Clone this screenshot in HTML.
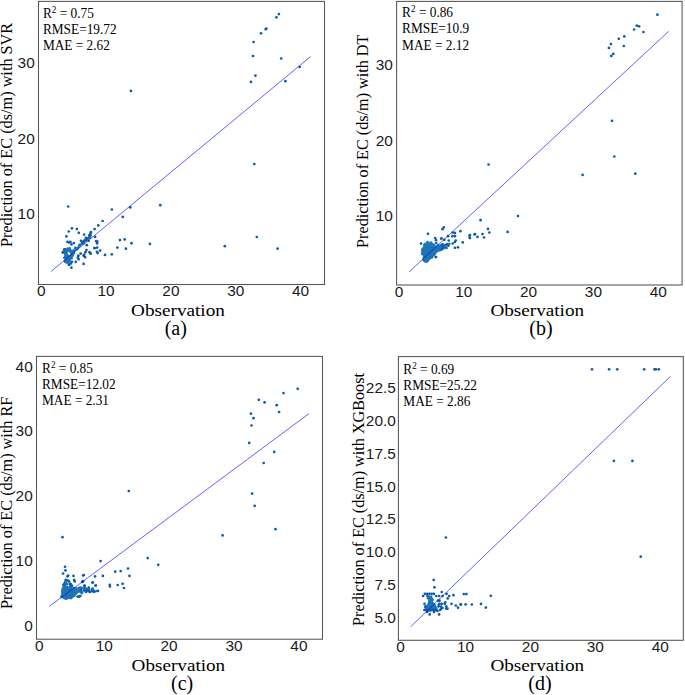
<!DOCTYPE html>
<html><head><meta charset="utf-8"><style>
html,body{margin:0;padding:0;background:#fff;width:685px;height:695px;overflow:hidden}
svg{display:block}
text{font-family:"Liberation Serif",serif}
.sa{font-family:"Liberation Sans",sans-serif}
.se{font-family:"Liberation Serif",serif}
</style></head><body>
<svg width="685" height="695" viewBox="0 0 685 695">
<rect width="685" height="695" fill="#fff"/>
<polygon fill="#1f75b4" points="68.2,248.3 71,249 72.5,250.4 74.5,249.3 76.5,247.8 79,246 81,245 81.5,245.6 79.5,247.5 76.5,250 74.8,252 73.8,254.5 72.5,257 70.8,260.2 69.2,262.2 67.1,263.4 65.4,262.7 64.4,259.5 64.6,256 63.6,252.5 65,250 66.5,248.8"/>
<g fill="#1f75b4">
<circle cx="65.9" cy="260.6" r="1.35"/>
<circle cx="72.5" cy="252.9" r="1.35"/>
<circle cx="71.6" cy="258.2" r="1.35"/>
<circle cx="67.7" cy="262.5" r="1.35"/>
<circle cx="79.9" cy="244.9" r="1.35"/>
<circle cx="67.4" cy="252.4" r="1.35"/>
<circle cx="71.5" cy="253.8" r="1.35"/>
<circle cx="67.7" cy="248.7" r="1.35"/>
<circle cx="67.5" cy="253.1" r="1.35"/>
<circle cx="75.2" cy="247.9" r="1.35"/>
<circle cx="65.7" cy="250.7" r="1.35"/>
<circle cx="69.0" cy="255.6" r="1.35"/>
<circle cx="72.7" cy="255.6" r="1.35"/>
<circle cx="66.6" cy="254.9" r="1.35"/>
<circle cx="70.3" cy="252.7" r="1.35"/>
<circle cx="73.0" cy="251.9" r="1.35"/>
<circle cx="64.3" cy="257.8" r="1.35"/>
<circle cx="74.0" cy="253.1" r="1.35"/>
<circle cx="68.4" cy="254.8" r="1.35"/>
<circle cx="73.7" cy="252.5" r="1.35"/>
<circle cx="72.7" cy="253.6" r="1.35"/>
<circle cx="70.0" cy="251.0" r="1.35"/>
<circle cx="66.7" cy="255.5" r="1.35"/>
<circle cx="68.1" cy="260.5" r="1.35"/>
<circle cx="77.2" cy="249.1" r="1.35"/>
<circle cx="65.5" cy="256.3" r="1.35"/>
<circle cx="66.4" cy="254.4" r="1.35"/>
<circle cx="66.6" cy="249.5" r="1.35"/>
<circle cx="69.4" cy="253.4" r="1.35"/>
<circle cx="63.9" cy="251.7" r="1.35"/>
<circle cx="65.5" cy="261.6" r="1.35"/>
<circle cx="66.2" cy="258.1" r="1.35"/>
<circle cx="66.4" cy="257.8" r="1.35"/>
<circle cx="67.5" cy="263.1" r="1.35"/>
<circle cx="67.6" cy="256.8" r="1.35"/>
<circle cx="70.7" cy="255.4" r="1.35"/>
<circle cx="69.3" cy="256.4" r="1.35"/>
<circle cx="64.6" cy="250.0" r="1.35"/>
<circle cx="69.1" cy="260.8" r="1.35"/>
<circle cx="69.1" cy="262.4" r="1.35"/>
<circle cx="79.5" cy="245.0" r="1.35"/>
<circle cx="70.4" cy="251.0" r="1.35"/>
<circle cx="67.2" cy="257.3" r="1.35"/>
<circle cx="65.4" cy="257.1" r="1.35"/>
<circle cx="68.9" cy="253.9" r="1.35"/>
<circle cx="69.4" cy="261.1" r="1.35"/>
<circle cx="67.2" cy="250.6" r="1.35"/>
<circle cx="69.7" cy="248.4" r="1.35"/>
<circle cx="67.8" cy="258.3" r="1.35"/>
<circle cx="69.7" cy="249.9" r="1.35"/>
<circle cx="66.0" cy="254.9" r="1.35"/>
<circle cx="64.8" cy="261.0" r="1.35"/>
<circle cx="69.7" cy="256.1" r="1.35"/>
<circle cx="65.0" cy="249.4" r="1.35"/>
<circle cx="68.5" cy="259.4" r="1.35"/>
<circle cx="65.6" cy="261.3" r="1.35"/>
<circle cx="67.9" cy="258.6" r="1.35"/>
<circle cx="65.4" cy="261.8" r="1.35"/>
<circle cx="68.1" cy="253.5" r="1.35"/>
<circle cx="65.3" cy="256.8" r="1.35"/>
<circle cx="73.4" cy="250.6" r="1.35"/>
<circle cx="76.6" cy="248.3" r="1.35"/>
<circle cx="79.0" cy="246.3" r="1.35"/>
<circle cx="81.6" cy="244.0" r="1.35"/>
<circle cx="83.7" cy="243.2" r="1.35"/>
<circle cx="84.4" cy="241.2" r="1.35"/>
<circle cx="85.9" cy="240.6" r="1.35"/>
<circle cx="88.3" cy="238.2" r="1.35"/>
<circle cx="89.9" cy="237.8" r="1.35"/>
<circle cx="90.7" cy="235.7" r="1.35"/>
</g>
<ellipse cx="68.9" cy="253.4" rx="1.1" ry="1.6" transform="rotate(-35 68.9 253.4)" fill="#fff"/>
<g fill="#0f5ca6">
<circle cx="278.9" cy="14.1" r="1.35"/>
<circle cx="276.4" cy="17.3" r="1.35"/>
<circle cx="266.4" cy="28.5" r="1.35"/>
<circle cx="265.7" cy="29.2" r="1.35"/>
<circle cx="261.0" cy="33.3" r="1.35"/>
<circle cx="253.6" cy="42.0" r="1.35"/>
<circle cx="253.1" cy="56.0" r="1.35"/>
<circle cx="281.2" cy="58.5" r="1.35"/>
<circle cx="299.7" cy="67.0" r="1.35"/>
<circle cx="255.4" cy="75.6" r="1.35"/>
<circle cx="251.0" cy="81.9" r="1.35"/>
<circle cx="285.4" cy="81.2" r="1.35"/>
<circle cx="130.9" cy="90.9" r="1.35"/>
<circle cx="254.3" cy="164.1" r="1.35"/>
<circle cx="256.8" cy="237.0" r="1.35"/>
<circle cx="277.6" cy="248.7" r="1.35"/>
<circle cx="160.3" cy="205.2" r="1.35"/>
<circle cx="149.9" cy="243.9" r="1.35"/>
<circle cx="224.8" cy="246.2" r="1.35"/>
<circle cx="68.2" cy="206.5" r="1.35"/>
<circle cx="111.9" cy="209.5" r="1.35"/>
<circle cx="130.3" cy="207.4" r="1.35"/>
<circle cx="122.8" cy="216.9" r="1.35"/>
<circle cx="102.6" cy="221.0" r="1.35"/>
<circle cx="98.3" cy="225.4" r="1.35"/>
<circle cx="94.6" cy="229.1" r="1.35"/>
<circle cx="71.9" cy="228.3" r="1.35"/>
<circle cx="76.9" cy="229.1" r="1.35"/>
<circle cx="68.8" cy="231.5" r="1.35"/>
<circle cx="78.8" cy="232.8" r="1.35"/>
<circle cx="66.4" cy="236.4" r="1.35"/>
<circle cx="84.1" cy="234.5" r="1.35"/>
<circle cx="90.9" cy="232.2" r="1.35"/>
<circle cx="90.5" cy="233.8" r="1.35"/>
<circle cx="89.2" cy="235.7" r="1.35"/>
<circle cx="95.1" cy="236.9" r="1.35"/>
<circle cx="85.9" cy="237.8" r="1.35"/>
<circle cx="96.2" cy="241.2" r="1.35"/>
<circle cx="97.3" cy="241.5" r="1.35"/>
<circle cx="97.1" cy="243.4" r="1.35"/>
<circle cx="119.9" cy="240.1" r="1.35"/>
<circle cx="124.7" cy="239.4" r="1.35"/>
<circle cx="131.5" cy="243.2" r="1.35"/>
<circle cx="117.4" cy="247.6" r="1.35"/>
<circle cx="125.9" cy="248.7" r="1.35"/>
<circle cx="111.8" cy="254.3" r="1.35"/>
<circle cx="105.0" cy="254.9" r="1.35"/>
<circle cx="94.4" cy="248.1" r="1.35"/>
<circle cx="97.1" cy="247.6" r="1.35"/>
<circle cx="100.1" cy="250.6" r="1.35"/>
<circle cx="96.9" cy="251.8" r="1.35"/>
<circle cx="97.7" cy="253.1" r="1.35"/>
<circle cx="90.6" cy="253.6" r="1.35"/>
<circle cx="67.4" cy="241.9" r="1.35"/>
<circle cx="69.2" cy="242.5" r="1.35"/>
<circle cx="70.4" cy="241.9" r="1.35"/>
<circle cx="71.5" cy="244.3" r="1.35"/>
<circle cx="73.9" cy="243.1" r="1.35"/>
<circle cx="81.0" cy="240.8" r="1.35"/>
<circle cx="83.6" cy="241.4" r="1.35"/>
<circle cx="84.8" cy="240.2" r="1.35"/>
<circle cx="82.4" cy="242.6" r="1.35"/>
<circle cx="88.6" cy="240.8" r="1.35"/>
<circle cx="86.8" cy="245.2" r="1.35"/>
<circle cx="94.7" cy="248.1" r="1.35"/>
<circle cx="86.5" cy="250.1" r="1.35"/>
<circle cx="85.4" cy="252.2" r="1.35"/>
<circle cx="84.2" cy="254.5" r="1.35"/>
<circle cx="83.6" cy="255.7" r="1.35"/>
<circle cx="85.1" cy="257.2" r="1.35"/>
<circle cx="89.5" cy="252.2" r="1.35"/>
<circle cx="90.6" cy="253.6" r="1.35"/>
<circle cx="80.7" cy="253.6" r="1.35"/>
<circle cx="78.4" cy="255.7" r="1.35"/>
<circle cx="77.8" cy="257.4" r="1.35"/>
<circle cx="78.6" cy="259.2" r="1.35"/>
<circle cx="75.7" cy="261.8" r="1.35"/>
<circle cx="71.9" cy="261.8" r="1.35"/>
<circle cx="70.8" cy="263.6" r="1.35"/>
<circle cx="69.0" cy="265.0" r="1.35"/>
<circle cx="71.4" cy="267.7" r="1.35"/>
<circle cx="83.6" cy="263.9" r="1.35"/>
<circle cx="63.2" cy="252.2" r="1.35"/>
<circle cx="64.3" cy="249.3" r="1.35"/>
<circle cx="62.8" cy="252.4" r="1.35"/>
<circle cx="89.9" cy="234.6" r="1.35"/>
<circle cx="87.5" cy="238.5" r="1.35"/>
<circle cx="86.2" cy="239.5" r="1.35"/>
</g>
<line x1="51.1" y1="271.4" x2="310.7" y2="56.5" stroke="#0000ff" stroke-opacity="0.62" stroke-width="1"/>
<rect x="38.5" y="1.4" width="286.0" height="283.1" fill="none" stroke="#555555" stroke-width="1.05"/>
<text transform="translate(41.2,296.2) scale(1.1,1)" class="sa" font-size="14" fill="#1a1a1a" text-anchor="middle">0</text>
<text transform="translate(106.1,296.2) scale(1.1,1)" class="sa" font-size="14" fill="#1a1a1a" text-anchor="middle">10</text>
<text transform="translate(170.9,296.2) scale(1.1,1)" class="sa" font-size="14" fill="#1a1a1a" text-anchor="middle">20</text>
<text transform="translate(235.8,296.2) scale(1.1,1)" class="sa" font-size="14" fill="#1a1a1a" text-anchor="middle">30</text>
<text transform="translate(300.6,296.2) scale(1.1,1)" class="sa" font-size="14" fill="#1a1a1a" text-anchor="middle">40</text>
<text transform="translate(34.7,219.2) scale(1.1,1)" class="sa" font-size="14" fill="#1a1a1a" text-anchor="end">10</text>
<text transform="translate(34.7,143.6) scale(1.1,1)" class="sa" font-size="14" fill="#1a1a1a" text-anchor="end">20</text>
<text transform="translate(34.7,68.0) scale(1.1,1)" class="sa" font-size="14" fill="#1a1a1a" text-anchor="end">30</text>
<text transform="translate(12.4,247.1) rotate(-90)" x="0" y="0" class="se" font-size="16.2" fill="#000" textLength="224.3" lengthAdjust="spacingAndGlyphs">Prediction of EC (ds/m) with SVR</text>
<text transform="translate(42.9,17.5) scale(0.965,1)" class="se" font-size="13.8" fill="#000">R<tspan font-size="9.5" dy="-4.6">2</tspan><tspan dy="4.6"> = 0.75</tspan></text>
<text transform="translate(42.9,33.8) scale(0.965,1)" class="se" font-size="13.8" fill="#000">RMSE=19.72</text>
<text transform="translate(42.9,50.1) scale(0.965,1)" class="se" font-size="13.8" fill="#000">MAE = 2.62</text>
<text x="131.1" y="315.9" class="se" font-size="16.5" fill="#000" textLength="93.8" lengthAdjust="spacingAndGlyphs">Observation</text>
<text x="175.8" y="334.8" class="se" font-size="20" fill="#000" text-anchor="middle">(a)</text>
<polygon fill="#1f75b4" points="427.5,242.5 431,242 434,244 436,246 440,245.2 443.5,244.5 445,245.5 444,247.5 440.5,250.5 437,252.5 435,255.5 431.5,258.5 428,261.8 425,263 423.5,261.5 423.3,258 422.5,254 423,249.5 424.8,245"/>
<g fill="#1f75b4">
<circle cx="437.7" cy="248.4" r="1.35"/>
<circle cx="432.1" cy="250.3" r="1.35"/>
<circle cx="432.4" cy="247.5" r="1.35"/>
<circle cx="432.9" cy="248.6" r="1.35"/>
<circle cx="434.3" cy="254.0" r="1.35"/>
<circle cx="427.5" cy="242.1" r="1.35"/>
<circle cx="429.6" cy="244.6" r="1.35"/>
<circle cx="437.9" cy="245.6" r="1.35"/>
<circle cx="444.7" cy="245.2" r="1.35"/>
<circle cx="432.8" cy="253.3" r="1.35"/>
<circle cx="427.1" cy="248.8" r="1.35"/>
<circle cx="438.5" cy="245.3" r="1.35"/>
<circle cx="443.4" cy="247.5" r="1.35"/>
<circle cx="443.5" cy="248.4" r="1.35"/>
<circle cx="433.8" cy="253.0" r="1.35"/>
<circle cx="429.3" cy="246.2" r="1.35"/>
<circle cx="443.4" cy="245.8" r="1.35"/>
<circle cx="437.4" cy="247.6" r="1.35"/>
<circle cx="427.2" cy="260.9" r="1.35"/>
<circle cx="424.4" cy="253.1" r="1.35"/>
<circle cx="442.1" cy="247.0" r="1.35"/>
<circle cx="426.9" cy="261.0" r="1.35"/>
<circle cx="431.9" cy="257.4" r="1.35"/>
<circle cx="422.6" cy="249.6" r="1.35"/>
<circle cx="425.9" cy="256.4" r="1.35"/>
<circle cx="441.2" cy="245.1" r="1.35"/>
<circle cx="426.2" cy="256.8" r="1.35"/>
<circle cx="431.0" cy="242.5" r="1.35"/>
<circle cx="422.7" cy="249.2" r="1.35"/>
<circle cx="424.5" cy="249.0" r="1.35"/>
<circle cx="422.6" cy="251.5" r="1.35"/>
<circle cx="433.1" cy="246.6" r="1.35"/>
<circle cx="437.5" cy="248.6" r="1.35"/>
<circle cx="424.3" cy="251.5" r="1.35"/>
<circle cx="442.6" cy="244.4" r="1.35"/>
<circle cx="435.7" cy="250.3" r="1.35"/>
<circle cx="434.1" cy="244.8" r="1.35"/>
<circle cx="444.6" cy="247.3" r="1.35"/>
<circle cx="436.2" cy="250.9" r="1.35"/>
<circle cx="422.3" cy="253.9" r="1.35"/>
<circle cx="424.1" cy="255.6" r="1.35"/>
<circle cx="427.4" cy="251.4" r="1.35"/>
<circle cx="427.8" cy="254.6" r="1.35"/>
<circle cx="438.7" cy="247.3" r="1.35"/>
<circle cx="431.9" cy="253.2" r="1.35"/>
<circle cx="431.6" cy="244.0" r="1.35"/>
<circle cx="439.0" cy="246.9" r="1.35"/>
<circle cx="424.2" cy="245.6" r="1.35"/>
<circle cx="427.4" cy="246.4" r="1.35"/>
<circle cx="434.2" cy="251.8" r="1.35"/>
<circle cx="429.2" cy="255.7" r="1.35"/>
<circle cx="426.9" cy="261.6" r="1.35"/>
<circle cx="432.2" cy="252.9" r="1.35"/>
<circle cx="431.8" cy="253.2" r="1.35"/>
<circle cx="426.2" cy="243.7" r="1.35"/>
<circle cx="440.9" cy="249.7" r="1.35"/>
<circle cx="436.3" cy="248.0" r="1.35"/>
<circle cx="424.3" cy="248.3" r="1.35"/>
<circle cx="422.2" cy="251.5" r="1.35"/>
<circle cx="431.6" cy="252.3" r="1.35"/>
<circle cx="426.8" cy="254.6" r="1.35"/>
<circle cx="423.6" cy="247.9" r="1.35"/>
<circle cx="423.7" cy="258.2" r="1.35"/>
<circle cx="426.4" cy="254.2" r="1.35"/>
<circle cx="431.2" cy="251.8" r="1.35"/>
<circle cx="439.7" cy="250.3" r="1.35"/>
<circle cx="424.8" cy="244.3" r="1.35"/>
<circle cx="423.8" cy="260.3" r="1.35"/>
<circle cx="430.3" cy="251.7" r="1.35"/>
<circle cx="440.8" cy="247.5" r="1.35"/>
<circle cx="437.0" cy="251.2" r="1.35"/>
<circle cx="440.2" cy="248.5" r="1.35"/>
<circle cx="442.3" cy="247.3" r="1.35"/>
<circle cx="445.7" cy="245.9" r="1.35"/>
<circle cx="449.3" cy="243.9" r="1.35"/>
</g>
<g fill="#0f5ca6">
<circle cx="657.4" cy="14.7" r="1.35"/>
<circle cx="636.8" cy="25.7" r="1.35"/>
<circle cx="639.1" cy="26.3" r="1.35"/>
<circle cx="634.1" cy="29.5" r="1.35"/>
<circle cx="643.4" cy="32.0" r="1.35"/>
<circle cx="624.3" cy="36.4" r="1.35"/>
<circle cx="618.8" cy="38.8" r="1.35"/>
<circle cx="610.9" cy="44.1" r="1.35"/>
<circle cx="608.9" cy="47.9" r="1.35"/>
<circle cx="623.8" cy="46.0" r="1.35"/>
<circle cx="613.3" cy="53.9" r="1.35"/>
<circle cx="611.3" cy="55.9" r="1.35"/>
<circle cx="612.0" cy="120.8" r="1.35"/>
<circle cx="614.3" cy="156.5" r="1.35"/>
<circle cx="582.6" cy="174.9" r="1.35"/>
<circle cx="635.3" cy="173.7" r="1.35"/>
<circle cx="488.6" cy="164.5" r="1.35"/>
<circle cx="517.9" cy="216.0" r="1.35"/>
<circle cx="480.6" cy="220.2" r="1.35"/>
<circle cx="488.0" cy="228.9" r="1.35"/>
<circle cx="489.3" cy="232.5" r="1.35"/>
<circle cx="507.6" cy="231.9" r="1.35"/>
<circle cx="475.1" cy="234.1" r="1.35"/>
<circle cx="477.5" cy="236.9" r="1.35"/>
<circle cx="482.5" cy="234.1" r="1.35"/>
<circle cx="484.0" cy="237.5" r="1.35"/>
<circle cx="470.0" cy="235.1" r="1.35"/>
<circle cx="470.0" cy="238.0" r="1.35"/>
<circle cx="443.8" cy="227.4" r="1.35"/>
<circle cx="442.5" cy="229.2" r="1.35"/>
<circle cx="427.9" cy="233.8" r="1.35"/>
<circle cx="460.4" cy="231.2" r="1.35"/>
<circle cx="474.6" cy="234.3" r="1.35"/>
<circle cx="469.5" cy="235.8" r="1.35"/>
<circle cx="469.7" cy="238.0" r="1.35"/>
<circle cx="452.7" cy="232.5" r="1.35"/>
<circle cx="454.9" cy="232.9" r="1.35"/>
<circle cx="452.4" cy="236.2" r="1.35"/>
<circle cx="454.9" cy="236.2" r="1.35"/>
<circle cx="448.0" cy="236.2" r="1.35"/>
<circle cx="441.4" cy="238.5" r="1.35"/>
<circle cx="435.2" cy="238.0" r="1.35"/>
<circle cx="436.0" cy="240.2" r="1.35"/>
<circle cx="436.3" cy="243.1" r="1.35"/>
<circle cx="444.3" cy="239.8" r="1.35"/>
<circle cx="448.7" cy="240.5" r="1.35"/>
<circle cx="455.7" cy="240.5" r="1.35"/>
<circle cx="454.9" cy="242.0" r="1.35"/>
<circle cx="452.7" cy="243.5" r="1.35"/>
<circle cx="462.8" cy="242.4" r="1.35"/>
<circle cx="446.9" cy="244.2" r="1.35"/>
<circle cx="448.4" cy="245.7" r="1.35"/>
<circle cx="454.9" cy="247.8" r="1.35"/>
<circle cx="458.0" cy="247.3" r="1.35"/>
<circle cx="446.5" cy="248.0" r="1.35"/>
<circle cx="442.5" cy="244.9" r="1.35"/>
<circle cx="443.2" cy="247.1" r="1.35"/>
<circle cx="441.8" cy="249.3" r="1.35"/>
<circle cx="436.0" cy="257.0" r="1.35"/>
<circle cx="421.0" cy="243.6" r="1.35"/>
<circle cx="435.8" cy="257.1" r="1.35"/>
<circle cx="441.3" cy="238.5" r="1.35"/>
</g>
<line x1="409.2" y1="271.8" x2="668.7" y2="31.3" stroke="#0000ff" stroke-opacity="0.62" stroke-width="1"/>
<rect x="396.6" y="1.4" width="285.5" height="283.6" fill="none" stroke="#555555" stroke-width="1.05"/>
<text transform="translate(399.0,296.7) scale(1.1,1)" class="sa" font-size="14" fill="#1a1a1a" text-anchor="middle">0</text>
<text transform="translate(463.8,296.7) scale(1.1,1)" class="sa" font-size="14" fill="#1a1a1a" text-anchor="middle">10</text>
<text transform="translate(528.6,296.7) scale(1.1,1)" class="sa" font-size="14" fill="#1a1a1a" text-anchor="middle">20</text>
<text transform="translate(593.4,296.7) scale(1.1,1)" class="sa" font-size="14" fill="#1a1a1a" text-anchor="middle">30</text>
<text transform="translate(658.2,296.7) scale(1.1,1)" class="sa" font-size="14" fill="#1a1a1a" text-anchor="middle">40</text>
<text transform="translate(392.8,221.2) scale(1.1,1)" class="sa" font-size="14" fill="#1a1a1a" text-anchor="end">10</text>
<text transform="translate(392.8,145.8) scale(1.1,1)" class="sa" font-size="14" fill="#1a1a1a" text-anchor="end">20</text>
<text transform="translate(392.8,70.4) scale(1.1,1)" class="sa" font-size="14" fill="#1a1a1a" text-anchor="end">30</text>
<text transform="translate(367.9,247.9) rotate(-90)" x="0" y="0" class="se" font-size="16.2" fill="#000" textLength="213.3" lengthAdjust="spacingAndGlyphs">Prediction of EC (ds/m) with DT</text>
<text transform="translate(402.1,16.9) scale(0.965,1)" class="se" font-size="13.8" fill="#000">R<tspan font-size="9.5" dy="-4.6">2</tspan><tspan dy="4.6"> = 0.86</tspan></text>
<text transform="translate(402.1,33.2) scale(0.965,1)" class="se" font-size="13.8" fill="#000">RMSE=10.9</text>
<text transform="translate(402.1,49.5) scale(0.965,1)" class="se" font-size="13.8" fill="#000">MAE = 2.12</text>
<text x="490.4" y="315.9" class="se" font-size="16.5" fill="#000" textLength="93.7" lengthAdjust="spacingAndGlyphs">Observation</text>
<text x="541.0" y="334.8" class="se" font-size="20" fill="#000" text-anchor="middle">(b)</text>
<polygon fill="#1f75b4" points="62,587 65.5,585 69,586.5 72.5,588.5 75.5,590 76.5,593 75.5,596.5 72,598.3 66,599.2 62.5,598.8 61.2,595 61,590.5"/>
<g fill="#1f75b4">
<circle cx="64.6" cy="591.1" r="1.35"/>
<circle cx="66.4" cy="592.2" r="1.35"/>
<circle cx="61.5" cy="596.5" r="1.35"/>
<circle cx="64.9" cy="585.4" r="1.35"/>
<circle cx="72.9" cy="589.8" r="1.35"/>
<circle cx="70.1" cy="583.9" r="1.35"/>
<circle cx="70.1" cy="597.0" r="1.35"/>
<circle cx="68.5" cy="594.7" r="1.35"/>
<circle cx="71.8" cy="591.9" r="1.35"/>
<circle cx="65.5" cy="581.7" r="1.35"/>
<circle cx="73.3" cy="589.8" r="1.35"/>
<circle cx="71.2" cy="597.2" r="1.35"/>
<circle cx="71.2" cy="598.0" r="1.35"/>
<circle cx="66.8" cy="595.8" r="1.35"/>
<circle cx="67.4" cy="598.3" r="1.35"/>
<circle cx="63.2" cy="585.1" r="1.35"/>
<circle cx="74.7" cy="589.1" r="1.35"/>
<circle cx="70.0" cy="586.6" r="1.35"/>
<circle cx="68.3" cy="588.2" r="1.35"/>
<circle cx="66.1" cy="591.8" r="1.35"/>
<circle cx="69.4" cy="597.7" r="1.35"/>
<circle cx="70.7" cy="598.1" r="1.35"/>
<circle cx="70.6" cy="584.1" r="1.35"/>
<circle cx="73.8" cy="591.5" r="1.35"/>
<circle cx="71.2" cy="585.0" r="1.35"/>
<circle cx="72.8" cy="591.6" r="1.35"/>
<circle cx="65.2" cy="582.3" r="1.35"/>
<circle cx="62.5" cy="595.8" r="1.35"/>
<circle cx="67.0" cy="583.9" r="1.35"/>
<circle cx="65.4" cy="595.2" r="1.35"/>
<circle cx="71.2" cy="587.2" r="1.35"/>
<circle cx="65.6" cy="582.5" r="1.35"/>
<circle cx="64.0" cy="588.6" r="1.35"/>
<circle cx="69.7" cy="584.0" r="1.35"/>
<circle cx="61.9" cy="597.0" r="1.35"/>
<circle cx="65.6" cy="598.7" r="1.35"/>
<circle cx="73.7" cy="588.0" r="1.35"/>
<circle cx="67.7" cy="590.6" r="1.35"/>
<circle cx="70.2" cy="592.0" r="1.35"/>
<circle cx="69.0" cy="592.5" r="1.35"/>
<circle cx="74.3" cy="590.4" r="1.35"/>
<circle cx="67.3" cy="594.3" r="1.35"/>
<circle cx="64.6" cy="586.6" r="1.35"/>
<circle cx="74.8" cy="590.7" r="1.35"/>
<circle cx="67.0" cy="591.7" r="1.35"/>
<circle cx="80.2" cy="587.8" r="1.35"/>
<circle cx="83.8" cy="588.3" r="1.35"/>
<circle cx="76.4" cy="590.8" r="1.35"/>
<circle cx="92.0" cy="589.0" r="1.35"/>
<circle cx="86.9" cy="589.6" r="1.35"/>
<circle cx="78.8" cy="587.8" r="1.35"/>
<circle cx="79.7" cy="596.1" r="1.35"/>
<circle cx="92.8" cy="588.7" r="1.35"/>
<circle cx="81.9" cy="593.1" r="1.35"/>
<circle cx="86.2" cy="588.6" r="1.35"/>
<circle cx="87.1" cy="589.8" r="1.35"/>
<circle cx="86.3" cy="591.0" r="1.35"/>
<circle cx="88.3" cy="591.1" r="1.35"/>
<circle cx="78.6" cy="589.9" r="1.35"/>
<circle cx="76.0" cy="593.1" r="1.35"/>
<circle cx="81.2" cy="592.2" r="1.35"/>
<circle cx="85.4" cy="590.2" r="1.35"/>
<circle cx="84.1" cy="588.8" r="1.35"/>
<circle cx="89.0" cy="589.6" r="1.35"/>
<circle cx="82.1" cy="592.4" r="1.35"/>
<circle cx="76.3" cy="589.1" r="1.35"/>
<circle cx="80.2" cy="590.1" r="1.35"/>
<circle cx="78.9" cy="591.4" r="1.35"/>
<circle cx="75.9" cy="593.8" r="1.35"/>
<circle cx="75.4" cy="589.7" r="1.35"/>
<circle cx="81.5" cy="588.7" r="1.35"/>
<circle cx="84.8" cy="588.1" r="1.35"/>
<circle cx="76.0" cy="588.5" r="1.35"/>
<circle cx="92.4" cy="590.4" r="1.35"/>
<circle cx="81.4" cy="587.7" r="1.35"/>
<circle cx="76.2" cy="588.5" r="1.35"/>
<circle cx="75.9" cy="591.7" r="1.35"/>
<circle cx="77.7" cy="592.1" r="1.35"/>
<circle cx="92.2" cy="590.9" r="1.35"/>
<circle cx="80.3" cy="590.9" r="1.35"/>
<circle cx="75.8" cy="591.0" r="1.35"/>
<circle cx="80.5" cy="595.8" r="1.35"/>
<circle cx="93.4" cy="591.8" r="1.35"/>
<circle cx="75.7" cy="589.3" r="1.35"/>
<circle cx="80.4" cy="588.9" r="1.35"/>
</g>
<g fill="#0f5ca6">
<circle cx="297.7" cy="388.8" r="1.35"/>
<circle cx="283.5" cy="393.1" r="1.35"/>
<circle cx="258.8" cy="399.8" r="1.35"/>
<circle cx="264.6" cy="402.3" r="1.35"/>
<circle cx="276.7" cy="405.2" r="1.35"/>
<circle cx="279.1" cy="412.0" r="1.35"/>
<circle cx="250.9" cy="413.7" r="1.35"/>
<circle cx="253.5" cy="418.2" r="1.35"/>
<circle cx="251.5" cy="425.5" r="1.35"/>
<circle cx="249.2" cy="442.9" r="1.35"/>
<circle cx="274.2" cy="451.9" r="1.35"/>
<circle cx="263.7" cy="463.0" r="1.35"/>
<circle cx="252.1" cy="493.6" r="1.35"/>
<circle cx="254.7" cy="505.9" r="1.35"/>
<circle cx="275.5" cy="529.2" r="1.35"/>
<circle cx="222.6" cy="535.4" r="1.35"/>
<circle cx="128.8" cy="491.1" r="1.35"/>
<circle cx="147.7" cy="558.1" r="1.35"/>
<circle cx="158.2" cy="564.8" r="1.35"/>
<circle cx="100.6" cy="561.1" r="1.35"/>
<circle cx="128.0" cy="568.5" r="1.35"/>
<circle cx="120.7" cy="571.1" r="1.35"/>
<circle cx="115.2" cy="571.7" r="1.35"/>
<circle cx="129.5" cy="575.9" r="1.35"/>
<circle cx="83.1" cy="575.5" r="1.35"/>
<circle cx="83.9" cy="575.0" r="1.35"/>
<circle cx="95.1" cy="576.4" r="1.35"/>
<circle cx="102.9" cy="575.9" r="1.35"/>
<circle cx="82.2" cy="581.9" r="1.35"/>
<circle cx="83.1" cy="581.2" r="1.35"/>
<circle cx="92.7" cy="582.6" r="1.35"/>
<circle cx="95.8" cy="585.5" r="1.35"/>
<circle cx="109.8" cy="584.8" r="1.35"/>
<circle cx="109.9" cy="586.4" r="1.35"/>
<circle cx="117.7" cy="585.0" r="1.35"/>
<circle cx="122.6" cy="583.8" r="1.35"/>
<circle cx="124.0" cy="588.0" r="1.35"/>
<circle cx="84.4" cy="585.7" r="1.35"/>
<circle cx="88.8" cy="587.7" r="1.35"/>
<circle cx="98.0" cy="591.0" r="1.35"/>
<circle cx="62.5" cy="537.2" r="1.35"/>
<circle cx="65.0" cy="566.8" r="1.35"/>
<circle cx="65.5" cy="570.4" r="1.35"/>
<circle cx="63.0" cy="573.5" r="1.35"/>
<circle cx="67.5" cy="576.3" r="1.35"/>
<circle cx="68.2" cy="575.5" r="1.35"/>
<circle cx="73.5" cy="575.9" r="1.35"/>
<circle cx="65.7" cy="579.9" r="1.35"/>
<circle cx="67.5" cy="580.3" r="1.35"/>
<circle cx="69.0" cy="581.4" r="1.35"/>
<circle cx="74.1" cy="579.9" r="1.35"/>
<circle cx="74.8" cy="581.4" r="1.35"/>
<circle cx="82.5" cy="581.8" r="1.35"/>
<circle cx="92.6" cy="582.5" r="1.35"/>
<circle cx="64.2" cy="583.9" r="1.35"/>
<circle cx="70.4" cy="584.3" r="1.35"/>
<circle cx="71.9" cy="585.8" r="1.35"/>
<circle cx="84.7" cy="585.8" r="1.35"/>
<circle cx="95.6" cy="585.6" r="1.35"/>
<circle cx="93.8" cy="590.9" r="1.35"/>
<circle cx="97.4" cy="590.9" r="1.35"/>
<circle cx="77.7" cy="596.7" r="1.35"/>
<circle cx="79.2" cy="596.7" r="1.35"/>
<circle cx="81.0" cy="590.0" r="1.35"/>
<circle cx="84.0" cy="590.5" r="1.35"/>
<circle cx="87.0" cy="590.0" r="1.35"/>
<circle cx="89.0" cy="591.0" r="1.35"/>
<circle cx="92.0" cy="590.5" r="1.35"/>
<circle cx="95.0" cy="591.5" r="1.35"/>
<circle cx="86.0" cy="592.0" r="1.35"/>
<circle cx="90.0" cy="592.0" r="1.35"/>
</g>
<line x1="49.2" y1="606.4" x2="309.0" y2="413.6" stroke="#0000ff" stroke-opacity="0.62" stroke-width="1"/>
<rect x="36.5" y="356.4" width="286.0" height="282.8" fill="none" stroke="#555555" stroke-width="1.05"/>
<text transform="translate(39.3,650.9) scale(1.1,1)" class="sa" font-size="14" fill="#1a1a1a" text-anchor="middle">0</text>
<text transform="translate(104.2,650.9) scale(1.1,1)" class="sa" font-size="14" fill="#1a1a1a" text-anchor="middle">10</text>
<text transform="translate(169.1,650.9) scale(1.1,1)" class="sa" font-size="14" fill="#1a1a1a" text-anchor="middle">20</text>
<text transform="translate(234.0,650.9) scale(1.1,1)" class="sa" font-size="14" fill="#1a1a1a" text-anchor="middle">30</text>
<text transform="translate(298.9,650.9) scale(1.1,1)" class="sa" font-size="14" fill="#1a1a1a" text-anchor="middle">40</text>
<text transform="translate(32.7,631.1) scale(1.1,1)" class="sa" font-size="14" fill="#1a1a1a" text-anchor="end">0</text>
<text transform="translate(32.7,566.2) scale(1.1,1)" class="sa" font-size="14" fill="#1a1a1a" text-anchor="end">10</text>
<text transform="translate(32.7,501.3) scale(1.1,1)" class="sa" font-size="14" fill="#1a1a1a" text-anchor="end">20</text>
<text transform="translate(32.7,436.4) scale(1.1,1)" class="sa" font-size="14" fill="#1a1a1a" text-anchor="end">30</text>
<text transform="translate(32.7,371.5) scale(1.1,1)" class="sa" font-size="14" fill="#1a1a1a" text-anchor="end">40</text>
<text transform="translate(12.3,609.0) rotate(-90)" x="0" y="0" class="se" font-size="16.2" fill="#000" textLength="212.4" lengthAdjust="spacingAndGlyphs">Prediction of EC (ds/m) with RF</text>
<text transform="translate(42.0,372.7) scale(0.965,1)" class="se" font-size="13.8" fill="#000">R<tspan font-size="9.5" dy="-4.6">2</tspan><tspan dy="4.6"> = 0.85</tspan></text>
<text transform="translate(42.0,389.0) scale(0.965,1)" class="se" font-size="13.8" fill="#000">RMSE=12.02</text>
<text transform="translate(42.0,405.3) scale(0.965,1)" class="se" font-size="13.8" fill="#000">MAE = 2.31</text>
<text x="131.6" y="670.6" class="se" font-size="16.5" fill="#000" textLength="93.6" lengthAdjust="spacingAndGlyphs">Observation</text>
<text x="182.1" y="689.5" class="se" font-size="20" fill="#000" text-anchor="middle">(c)</text>
<polygon fill="#1f75b4" points="428,595.5 432.5,595.5 432,598.5 432.5,601.5 435.5,604 437,607.5 435.5,609.8 430,610.2 426,609.8 426.5,606 428,602 428.3,598.5"/>
<g fill="#1f75b4">
<circle cx="433.8" cy="606.6" r="1.35"/>
<circle cx="436.2" cy="609.8" r="1.35"/>
<circle cx="435.4" cy="609.5" r="1.35"/>
<circle cx="431.7" cy="598.7" r="1.35"/>
<circle cx="432.7" cy="603.9" r="1.35"/>
<circle cx="429.1" cy="609.4" r="1.35"/>
<circle cx="428.1" cy="598.2" r="1.35"/>
<circle cx="429.2" cy="610.1" r="1.35"/>
<circle cx="432.6" cy="605.6" r="1.35"/>
<circle cx="428.0" cy="609.8" r="1.35"/>
<circle cx="434.7" cy="610.2" r="1.35"/>
<circle cx="430.2" cy="597.4" r="1.35"/>
<circle cx="427.2" cy="595.8" r="1.35"/>
<circle cx="429.4" cy="604.4" r="1.35"/>
<circle cx="429.9" cy="599.7" r="1.35"/>
<circle cx="429.6" cy="602.4" r="1.35"/>
<circle cx="435.5" cy="608.2" r="1.35"/>
<circle cx="425.4" cy="607.3" r="1.35"/>
<circle cx="430.3" cy="604.0" r="1.35"/>
<circle cx="427.7" cy="610.0" r="1.35"/>
<circle cx="427.9" cy="606.8" r="1.35"/>
<circle cx="430.0" cy="600.4" r="1.35"/>
<circle cx="432.4" cy="607.1" r="1.35"/>
<circle cx="426.7" cy="606.7" r="1.35"/>
<circle cx="436.2" cy="608.5" r="1.35"/>
<circle cx="425.7" cy="609.8" r="1.35"/>
<circle cx="433.6" cy="609.4" r="1.35"/>
<circle cx="429.9" cy="609.5" r="1.35"/>
<circle cx="432.7" cy="599.8" r="1.35"/>
<circle cx="429.6" cy="597.6" r="1.35"/>
<circle cx="427.4" cy="595.6" r="1.35"/>
<circle cx="430.8" cy="598.6" r="1.35"/>
<circle cx="433.4" cy="607.9" r="1.35"/>
<circle cx="431.5" cy="601.5" r="1.35"/>
<circle cx="426.0" cy="609.4" r="1.35"/>
<circle cx="435.3" cy="609.9" r="1.35"/>
<circle cx="433.9" cy="607.3" r="1.35"/>
<circle cx="427.3" cy="608.2" r="1.35"/>
<circle cx="429.3" cy="602.0" r="1.35"/>
<circle cx="431.9" cy="606.4" r="1.35"/>
</g>
<g fill="#0f5ca6">
<circle cx="592.0" cy="369.3" r="1.35"/>
<circle cx="609.1" cy="369.3" r="1.35"/>
<circle cx="617.2" cy="369.3" r="1.35"/>
<circle cx="644.2" cy="369.3" r="1.35"/>
<circle cx="654.5" cy="369.3" r="1.35"/>
<circle cx="655.9" cy="369.3" r="1.35"/>
<circle cx="658.8" cy="369.3" r="1.35"/>
<circle cx="613.9" cy="460.9" r="1.35"/>
<circle cx="632.4" cy="460.9" r="1.35"/>
<circle cx="640.7" cy="556.7" r="1.35"/>
<circle cx="445.9" cy="537.5" r="1.35"/>
<circle cx="433.7" cy="579.9" r="1.35"/>
<circle cx="434.4" cy="587.3" r="1.35"/>
<circle cx="441.7" cy="592.0" r="1.35"/>
<circle cx="424.9" cy="593.8" r="1.35"/>
<circle cx="423.1" cy="596.0" r="1.35"/>
<circle cx="427.3" cy="593.8" r="1.35"/>
<circle cx="429.5" cy="593.8" r="1.35"/>
<circle cx="431.7" cy="593.8" r="1.35"/>
<circle cx="433.9" cy="593.8" r="1.35"/>
<circle cx="436.2" cy="596.0" r="1.35"/>
<circle cx="439.1" cy="596.0" r="1.35"/>
<circle cx="442.6" cy="596.0" r="1.35"/>
<circle cx="446.6" cy="593.8" r="1.35"/>
<circle cx="449.2" cy="596.0" r="1.35"/>
<circle cx="453.4" cy="595.2" r="1.35"/>
<circle cx="463.8" cy="594.1" r="1.35"/>
<circle cx="466.4" cy="594.1" r="1.35"/>
<circle cx="447.7" cy="598.4" r="1.35"/>
<circle cx="437.9" cy="600.7" r="1.35"/>
<circle cx="445.2" cy="602.4" r="1.35"/>
<circle cx="444.8" cy="603.8" r="1.35"/>
<circle cx="441.9" cy="603.8" r="1.35"/>
<circle cx="451.5" cy="603.8" r="1.35"/>
<circle cx="455.8" cy="605.5" r="1.35"/>
<circle cx="458.0" cy="607.7" r="1.35"/>
<circle cx="460.9" cy="604.4" r="1.35"/>
<circle cx="465.6" cy="604.4" r="1.35"/>
<circle cx="446.3" cy="606.4" r="1.35"/>
<circle cx="446.3" cy="608.7" r="1.35"/>
<circle cx="447.4" cy="608.7" r="1.35"/>
<circle cx="441.2" cy="608.7" r="1.35"/>
<circle cx="429.7" cy="614.4" r="1.35"/>
<circle cx="439.1" cy="614.4" r="1.35"/>
<circle cx="490.8" cy="595.8" r="1.35"/>
<circle cx="460.7" cy="604.5" r="1.35"/>
<circle cx="471.8" cy="604.5" r="1.35"/>
<circle cx="481.0" cy="603.9" r="1.35"/>
<circle cx="485.9" cy="607.6" r="1.35"/>
<circle cx="424.4" cy="610.0" r="1.35"/>
<circle cx="426.5" cy="610.0" r="1.35"/>
<circle cx="428.5" cy="610.5" r="1.35"/>
<circle cx="430.5" cy="610.5" r="1.35"/>
<circle cx="432.5" cy="610.0" r="1.35"/>
<circle cx="434.5" cy="610.0" r="1.35"/>
<circle cx="436.1" cy="610.0" r="1.35"/>
<circle cx="424.5" cy="603.8" r="1.35"/>
<circle cx="425.5" cy="606.4" r="1.35"/>
<circle cx="438.5" cy="606.4" r="1.35"/>
<circle cx="439.5" cy="603.8" r="1.35"/>
<circle cx="439.5" cy="600.7" r="1.35"/>
<circle cx="439.0" cy="604.5" r="1.35"/>
<circle cx="441.0" cy="606.5" r="1.35"/>
<circle cx="442.5" cy="608.0" r="1.35"/>
<circle cx="440.0" cy="610.0" r="1.35"/>
<circle cx="437.5" cy="611.0" r="1.35"/>
<circle cx="434.0" cy="612.0" r="1.35"/>
<circle cx="427.0" cy="612.0" r="1.35"/>
</g>
<line x1="410.7" y1="626.7" x2="670.5" y2="376.4" stroke="#0000ff" stroke-opacity="0.62" stroke-width="1"/>
<rect x="398.4" y="356.6" width="284.9" height="283.7" fill="none" stroke="#555555" stroke-width="1.05"/>
<text transform="translate(400.6,652.0) scale(1.1,1)" class="sa" font-size="14" fill="#1a1a1a" text-anchor="middle">0</text>
<text transform="translate(465.5,652.0) scale(1.1,1)" class="sa" font-size="14" fill="#1a1a1a" text-anchor="middle">10</text>
<text transform="translate(530.4,652.0) scale(1.1,1)" class="sa" font-size="14" fill="#1a1a1a" text-anchor="middle">20</text>
<text transform="translate(595.3,652.0) scale(1.1,1)" class="sa" font-size="14" fill="#1a1a1a" text-anchor="middle">30</text>
<text transform="translate(660.2,652.0) scale(1.1,1)" class="sa" font-size="14" fill="#1a1a1a" text-anchor="middle">40</text>
<text transform="translate(395.8,623.1) scale(1.1,1)" class="sa" font-size="14" fill="#1a1a1a" text-anchor="end">5.0</text>
<text transform="translate(395.8,590.2) scale(1.1,1)" class="sa" font-size="14" fill="#1a1a1a" text-anchor="end">7.5</text>
<text transform="translate(395.8,557.3) scale(1.1,1)" class="sa" font-size="14" fill="#1a1a1a" text-anchor="end">10.0</text>
<text transform="translate(395.8,524.4) scale(1.1,1)" class="sa" font-size="14" fill="#1a1a1a" text-anchor="end">12.5</text>
<text transform="translate(395.8,491.5) scale(1.1,1)" class="sa" font-size="14" fill="#1a1a1a" text-anchor="end">15.0</text>
<text transform="translate(395.8,458.6) scale(1.1,1)" class="sa" font-size="14" fill="#1a1a1a" text-anchor="end">17.5</text>
<text transform="translate(395.8,425.7) scale(1.1,1)" class="sa" font-size="14" fill="#1a1a1a" text-anchor="end">20.0</text>
<text transform="translate(395.8,392.8) scale(1.1,1)" class="sa" font-size="14" fill="#1a1a1a" text-anchor="end">22.5</text>
<text transform="translate(363.8,625.9) rotate(-90)" x="0" y="0" class="se" font-size="16.2" fill="#000" textLength="252.9" lengthAdjust="spacingAndGlyphs">Prediction of EC (ds/m) with XGBoost</text>
<text transform="translate(403.3,373.6) scale(0.965,1)" class="se" font-size="13.8" fill="#000">R<tspan font-size="9.5" dy="-4.6">2</tspan><tspan dy="4.6"> = 0.69</tspan></text>
<text transform="translate(403.3,389.9) scale(0.965,1)" class="se" font-size="13.8" fill="#000">RMSE=25.22</text>
<text transform="translate(403.3,406.2) scale(0.965,1)" class="se" font-size="13.8" fill="#000">MAE = 2.86</text>
<text x="490.4" y="670.6" class="se" font-size="16.5" fill="#000" textLength="93.7" lengthAdjust="spacingAndGlyphs">Observation</text>
<text x="540.0" y="689.5" class="se" font-size="20" fill="#000" text-anchor="middle">(d)</text>
</svg>
</body></html>
